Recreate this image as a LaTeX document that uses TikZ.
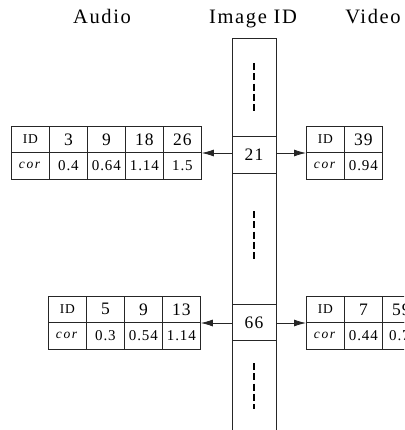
\documentclass[tikz,border=0pt]{standalone}
\usepackage{fontspec}
\setmainfont{Liberation Serif}
\newfontfamily\hdfont[LetterSpace=8]{Liberation Serif}
\newfontfamily\tbfont[LetterSpace=6]{Liberation Serif}
\newfontfamily\corfont[LetterSpace=12]{Liberation Serif}
\usetikzlibrary{arrows.meta}
\newcommand\mktab[4]{%
  \node[cell,idf] (#1h1) at (#2,#3) {ID};
  \node[cell,corf] (#1h2) at (#2,#3+26.5) {\textit{cor}};
  \foreach \i/\c [count=\k] in {#4} {
    \node[cell,numf] (#1a\k) at (#2+38*\k,#3) {\i};
    \node[cell,valf] (#1b\k) at (#2+38*\k,#3+26.5) {\c};
  }}
\begin{document}
\begin{tikzpicture}[x=1pt,y=-1pt,
  ln/.style={draw=black!85, line width=0.8pt},
  cell/.style={ln, rectangle, minimum width=38pt, minimum height=26.5pt, inner sep=0pt, anchor=north west},
  idf/.style={font=\tbfont\fontsize{13.5}{13.5}\selectfont},
  corf/.style={font=\corfont\fontsize{13.5}{13.5}\selectfont},
  numf/.style={font=\tbfont\fontsize{17.5}{17.5}\selectfont},
  valf/.style={font=\tbfont\fontsize{15}{15}\selectfont},
  hd/.style={font=\hdfont\fontsize{20.5}{20.5}\selectfont, anchor=base, inner sep=0pt},
  colcell/.style={ln, rectangle, minimum width=44pt, minimum height=36.6pt, inner sep=0pt, font=\tbfont\fontsize{17.5}{17.5}\selectfont},
  dots/.style={draw=black, line width=2pt, dash pattern=on 7pt off 3.3pt},
  arr/.style={ln, -{Latex[length=12pt,width=7pt]}}
]
\useasboundingbox (0,0) rectangle (404,430);
\clip (0,0) rectangle (404,430);

% headings
\node[hd] (haudio) at (102,24) {Audio};
\node[hd] (himg) at (253,24) {Image ID};
\node[hd] (hvid) at (373,24) {Video};

% central column
\node[ln, rectangle, minimum width=44pt, minimum height=410pt, inner sep=0pt, anchor=north] (col) at (254,38) {};
\node[colcell] (c21) at (254,155) {21};
\node[colcell] (c66) at (254,322.3) {66};

% dashed vertical marks
\coordinate (d1a) at (254,63);  \coordinate (d1b) at (254,112);
\coordinate (d2a) at (254,211); \coordinate (d2b) at (254,259);
\coordinate (d3a) at (254,363); \coordinate (d3b) at (254,409);
\draw[dots] (d1a) -- (d1b);
\draw[dots] (d2a) -- (d2b);
\draw[dots] (d3a) -- (d3b);

% tables
\mktab{A}{11}{125.7}{3/0.4, 9/0.64, 18/1.14, 26/1.5}
\mktab{V}{306}{125.7}{39/0.94}
\mktab{B}{48}{295.7}{5/0.3, 9/0.54, 13/1.14}
\mktab{W}{306}{295.7}{7/0.44, 59/{}}
\node[font=\tbfont\fontsize{15}{15}\selectfont, anchor=west, inner sep=0pt] (wlast) at (389,335.5) {0.7};

% arrows
\draw[arr] (c21.west |- Aa4.south east) -- (Aa4.south east);
\draw[arr] (c21.east |- Vh1.south west) -- (Vh1.south west);
\draw[arr] (c66.west |- Ba3.south east) -- (Ba3.south east);
\draw[arr] (c66.east |- Wh1.south west) -- (Wh1.south west);
\end{tikzpicture}
\end{document}
